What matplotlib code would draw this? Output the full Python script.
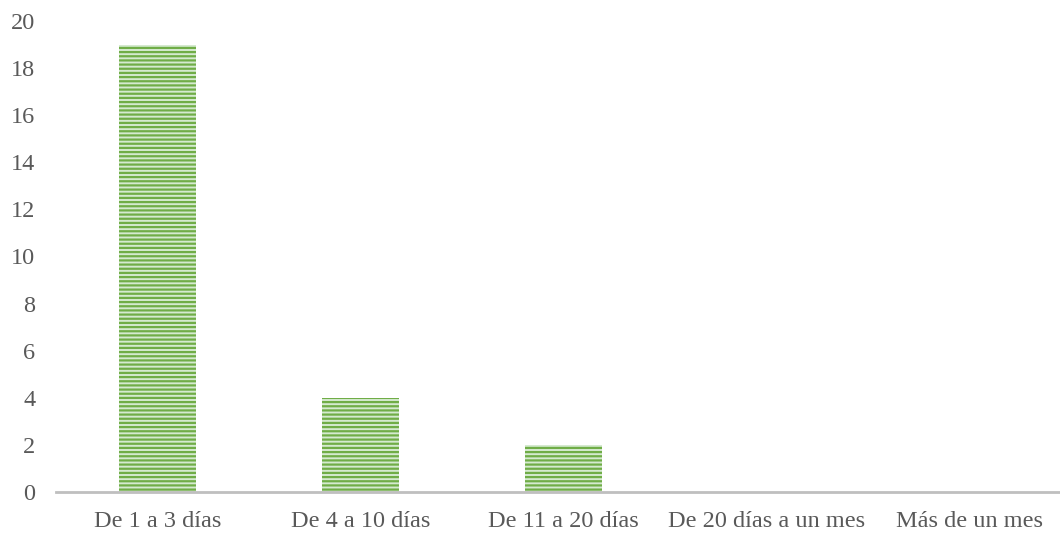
import matplotlib
matplotlib.use('Agg')
from matplotlib import pyplot as plt

categories = ['De 1 a 3 días', 'De 4 a 10 días', 'De 11 a 20 días', 'De 20 días a un mes', 'Más de un mes']
values     = [19, 4, 2, 0, 0]
yticks     = [0, 2, 4, 6, 8, 10, 12, 14, 16, 18, 20]

plt.rcParams['font.family'] = ['Liberation Serif', 'DejaVu Serif']
plt.rcParams['hatch.linewidth'] = 1.6

W, H = 1060, 533
fig = plt.figure(figsize=(W/100., H/100.), dpi=100)
ax = fig.add_axes([56./W, 1-492./H, 1015./W, (492.-21.)/H])

ax.bar(range(len(categories)), values, width=0.38, color='#d5ead0',
       edgecolor='#70ad47', hatch='----', linewidth=0)

ax.set_xlim(-0.5, len(categories)-0.5)
ax.set_ylim(0, 20)
ax.set_yticks(yticks)
ax.set_xticks(range(len(categories)))
ax.set_xticklabels(categories)
for s in ['top', 'right', 'left']:
    ax.spines[s].set_visible(False)
ax.spines['bottom'].set_color('#bfbfbf')
ax.spines['bottom'].set_linewidth(2)
ax.tick_params(axis='both', length=0, labelsize=17.5, labelcolor='#595959')
ax.tick_params(axis='x', pad=14)
ax.tick_params(axis='y', pad=15)

fig.savefig('out.png', dpi=100)
